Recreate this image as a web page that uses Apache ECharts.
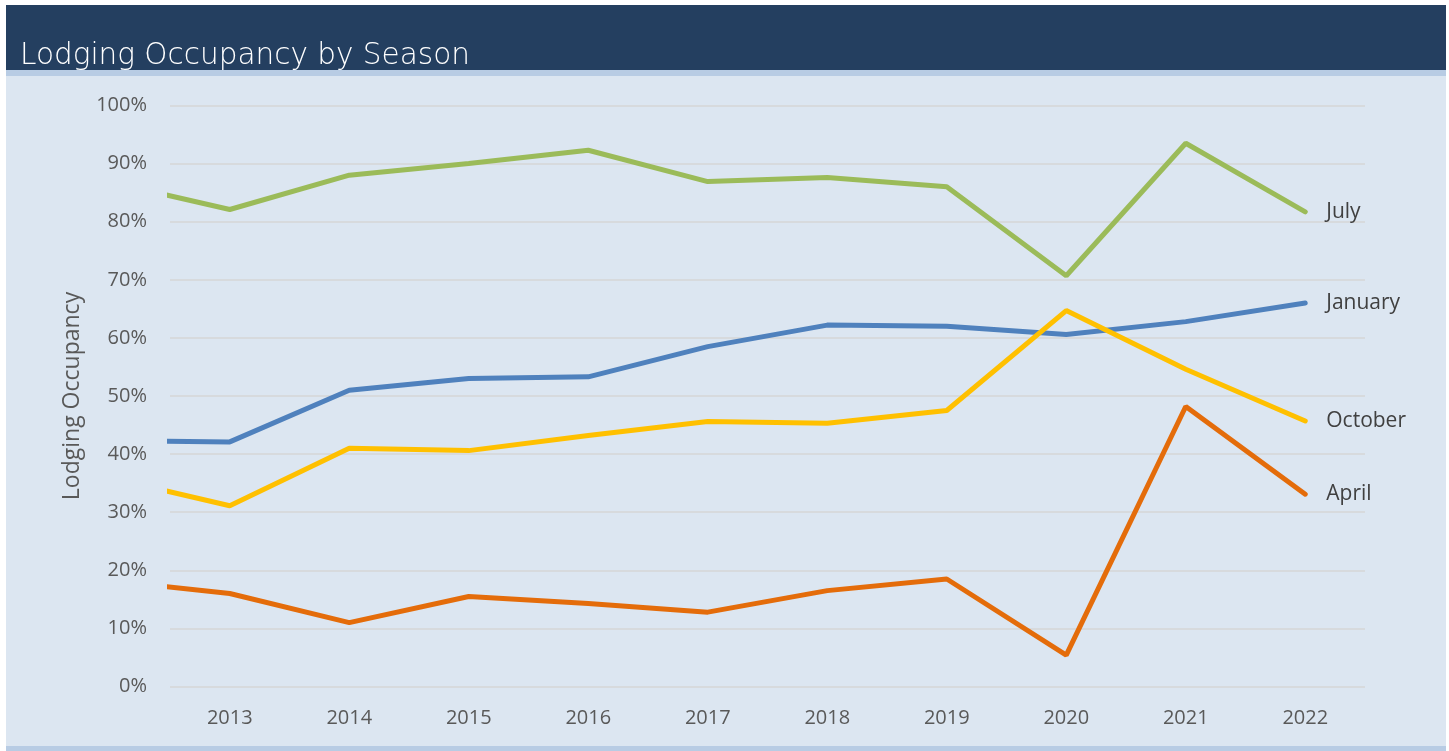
<!DOCTYPE html>
<html>
<head>
<meta charset="utf-8">
<title>Lodging Occupancy by Season</title>
<script src="https://cdn.jsdelivr.net/npm/echarts@6.0.0/dist/echarts.min.js"></script>
<style>
  html, body { margin: 0; padding: 0; background: #fff; }
  #chart { width: 1449px; height: 751px; }
</style>
</head>
<body>
<div id="chart"></div>
<script>
// years (2012 sits just outside the visible range, so lines start clipped at the left edge)
var years = [2012, 2013, 2014, 2015, 2016, 2017, 2018, 2019, 2020, 2021, 2022];
var yearLabels = [2013, 2014, 2015, 2016, 2017, 2018, 2019, 2020, 2021, 2022];

// occupancy, percent
var january = [42.3, 42.1, 51.0, 53.0, 53.3, 58.5, 62.2, 62.0, 60.6, 62.8, 66.0];
var april   = [18.2, 16.0, 11.0, 15.5, 14.3, 12.8, 16.5, 18.5, 5.4, 48.2, 33.1];
var july    = [86.8, 82.1, 88.0, 90.0, 92.3, 86.9, 87.6, 86.0, 70.7, 93.5, 81.7];
var october = [35.9, 31.1, 41.0, 40.6, 43.2, 45.6, 45.3, 47.5, 64.7, 54.6, 45.7];

var seriesDefs = [
  { name: 'January', values: january, color: '#4f81bd' },
  { name: 'April',   values: april,   color: '#e46c0a' },
  { name: 'July',    values: july,    color: '#9bbb59' },
  { name: 'October', values: october, color: '#ffc000' }
];

var textFont = 'Open Sans';

function pairs(vals) {
  return years.map(function (y, i) { return [y, vals[i]]; });
}

var chart = echarts.init(document.getElementById('chart'));
chart.setOption({
  backgroundColor: '#dce6f1',
  animation: false,
  graphic: [
    { type: 'rect', shape: { x: 0, y: 0, width: 1449, height: 5 }, style: { fill: '#ffffff' } },
    { type: 'rect', shape: { x: 0, y: 0, width: 6, height: 751 }, style: { fill: '#ffffff' } },
    { type: 'rect', shape: { x: 1446, y: 0, width: 3, height: 751 }, style: { fill: '#ffffff' } },
    { type: 'rect', shape: { x: 6, y: 5, width: 1440, height: 65 }, style: { fill: '#243f60' } },
    { type: 'rect', shape: { x: 6, y: 70, width: 1440, height: 6 }, style: { fill: '#b8cce4' } },
    { type: 'rect', shape: { x: 6, y: 746, width: 1440, height: 5 }, style: { fill: '#b8cce4' } }
  ],
  title: {
    text: 'Lodging Occupancy by Season',
    left: 14,
    top: 41,
    padding: [0, 0, 0, 6],
    textStyle: {
      color: '#ffffff',
      fontFamily: 'DejaVu Sans',
      fontWeight: 200,
      fontSize: 29.5
    }
  },
  grid: {
    left: 170,
    right: 84,
    top: 105.5,
    bottom: 64.5,
    containLabel: false,
    outerBoundsMode: 'none'
  },
  xAxis: {
    type: 'value',
    min: 2012.5,
    max: 2022.5,
    axisLine: { show: false },
    axisTick: { show: false },
    splitLine: { show: false },
    axisLabel: {
      customValues: yearLabels,
      margin: 22,
      fontSize: 20,
      fontFamily: textFont,
      color: '#595959',
      formatter: function (v) { return String(v); }
    }
  },
  yAxis: {
    type: 'value',
    min: 0,
    max: 100,
    interval: 10,
    name: 'Lodging Occupancy',
    nameLocation: 'middle',
    nameGap: 86,
    nameTextStyle: { fontSize: 23, fontFamily: textFont, color: '#595959' },
    axisLine: { show: false },
    axisTick: { show: false },
    splitLine: { lineStyle: { color: '#d6d6d6', width: 1.5 } },
    axisLabel: {
      formatter: '{value}%',
      margin: 23,
      fontSize: 20,
      fontFamily: textFont,
      color: '#595959'
    }
  },
  series: seriesDefs.map(function (s) {
    return {
      name: s.name,
      type: 'line',
      data: pairs(s.values),
      symbol: 'none',
      clip: true,
      lineStyle: { color: s.color, width: 5, cap: 'round' },
      itemStyle: { color: s.color },
      endLabel: {
        show: true,
        formatter: '{a}',
        distance: 21,
        fontSize: 21,
        fontFamily: textFont,
        color: '#404040'
      }
    };
  })
});
</script>
</body>
</html>
